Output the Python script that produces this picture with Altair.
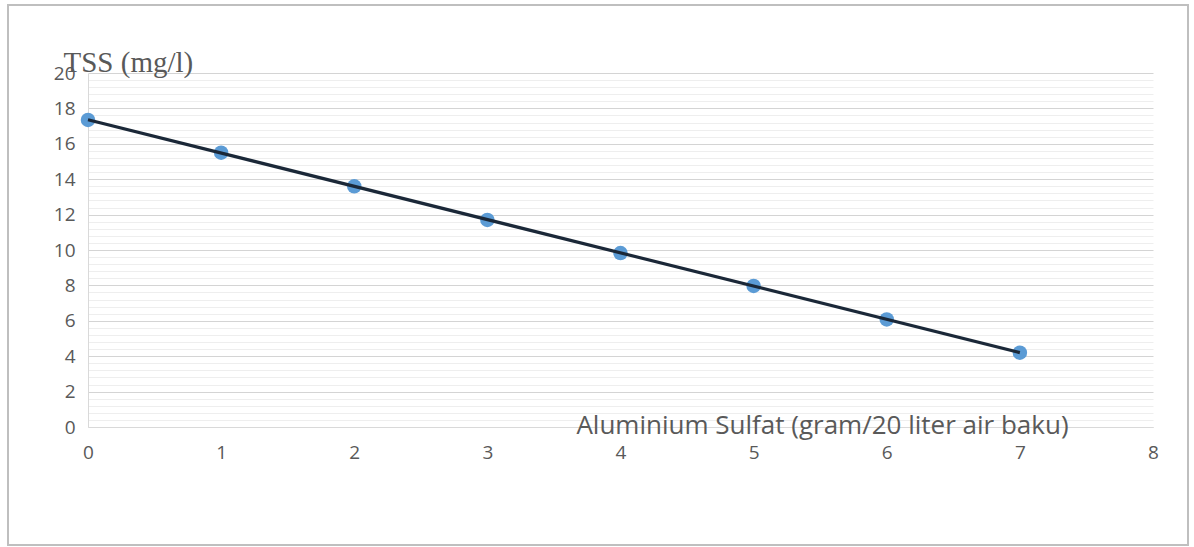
import altair as alt
import pandas as pd

dose = [0, 1, 2, 3, 4, 5, 6, 7]
tss = [17.35, 15.5, 13.6, 11.7, 9.83, 7.97, 6.08, 4.2]
x_ticks = [0, 1, 2, 3, 4, 5, 6, 7, 8]
y_grid = [round(i * 0.4, 1) for i in range(51)]

df = pd.DataFrame({"x": dose, "y": tss})

W, H = 1065, 354
LABEL_FONT = "Open Sans"
GRAY = "#595959"
MAJOR = "abs(datum.value - round(datum.value / 2) * 2) < 0.01"

xs = alt.Scale(domain=[0, 8], nice=False)
ys = alt.Scale(domain=[0, 20], nice=False)

x_axis = alt.Axis(
    values=x_ticks, tickCount=9, format="d", grid=False, ticks=False, domain=True,
    domainColor="#d9d9d9", labelOverlap=False, labelFlush=False,
    labelFont=LABEL_FONT, labelFontSize=19, labelColor=GRAY, labelPadding=16,
    title="Aluminium Sulfat (gram/20 liter air baku)", titleFont=LABEL_FONT,
    titleFontSize=26, titleFontWeight="normal", titleColor=GRAY,
    titleX=734, titleY=6, titleAlign="center", titleBaseline="alphabetic",
)
y_axis = alt.Axis(
    values=y_grid, tickCount=51, grid=True, ticks=False, domain=True,
    domainColor="#d9d9d9", labelOverlap=False, labelFlush=False,
    gridColor={"condition": {"test": MAJOR, "value": "#d4d4d4"}, "value": "#eeeeee"},
    gridWidth=1,
    labelExpr=MAJOR + " ? format(datum.value, 'd') : ''",
    labelFont=LABEL_FONT, labelFontSize=19, labelColor=GRAY, labelPadding=13,
    title="TSS (mg/l)", titleFont="Liberation Serif", titleFontSize=29,
    titleFontWeight="normal", titleColor=GRAY, titleAngle=0,
    titleX=-25, titleY=-2, titleAlign="left", titleBaseline="alphabetic",
)

base = alt.Chart(df)

points = base.mark_circle(size=210, color="#5b9bd5", opacity=1).encode(
    x=alt.X("x:Q", scale=xs, axis=x_axis),
    y=alt.Y("y:Q", scale=ys, axis=y_axis),
)

trend = base.transform_regression("x", "y").mark_line(color="#1b2838", strokeWidth=3.2).encode(
    x=alt.X("x:Q", scale=xs),
    y=alt.Y("y:Q", scale=ys),
)

frame = alt.Chart(pd.DataFrame({"a": [0]})).mark_rect(
    fill=None, stroke="#bfbfbf", strokeWidth=2, clip=False
).encode(
    x=alt.value(-80), x2=alt.value(1100), y=alt.value(-68), y2=alt.value(472)
)

chart = alt.layer(frame, points, trend).properties(
    width=W, height=H,
    padding={"left": 88, "top": 73, "right": 41, "bottom": 120},
    autosize=alt.AutoSizeParams(type="none"),
    background="white",
).configure_view(stroke=None)

chart.save("out.html", embed_options={"renderer": "svg", "actions": False})
